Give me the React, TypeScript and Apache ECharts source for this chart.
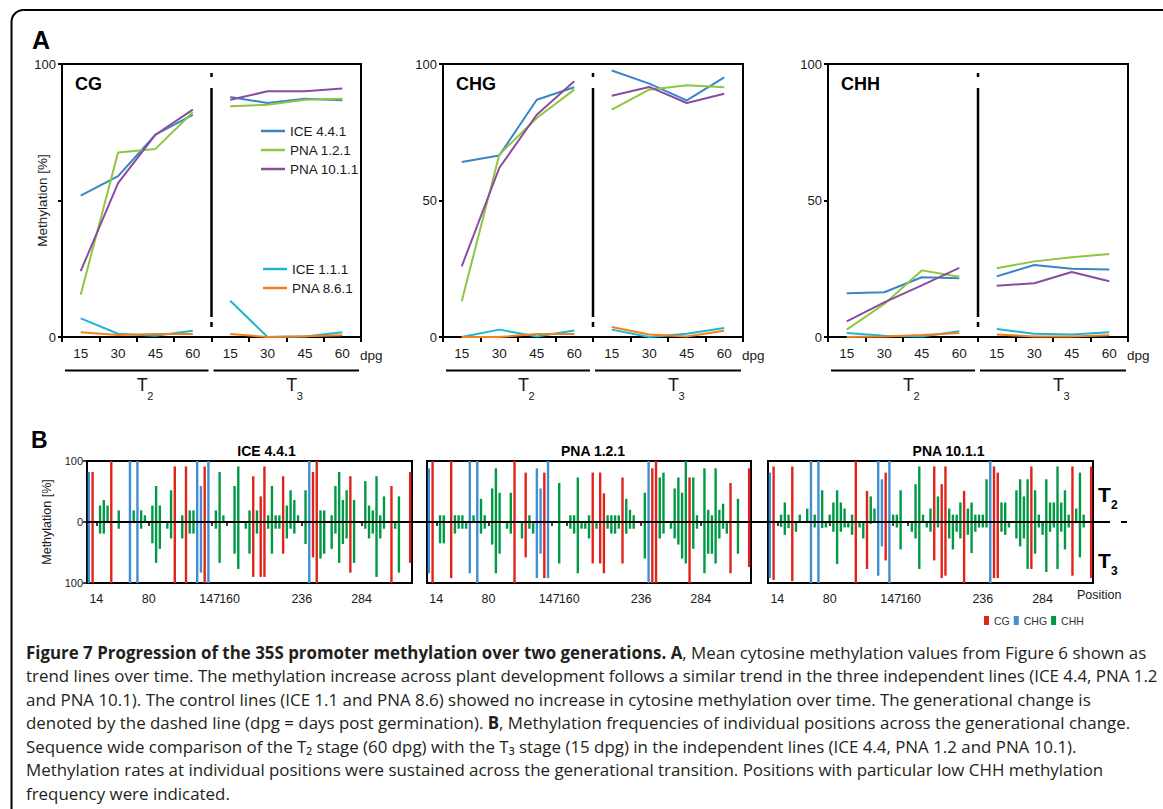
import React, { useEffect, useRef } from "react";
import * as echarts from "echarts";

const PAGE_W = 1163;
const PAGE_H = 809;
const FONT = "'Liberation Sans', Arial, Helvetica, sans-serif";
const CAP_FONT = "'Open Sans', 'Noto Sans', sans-serif";

// ---------------- Panel A data ----------------
const dpgTicks = ["15", "30", "45", "60"];
const generations = ["T2", "T3"];
const contextPanels = ["CG", "CHG", "CHH"];
const lineNames = ["ICE 4.4.1", "PNA 1.2.1", "PNA 10.1.1", "ICE 1.1.1", "PNA 8.6.1"];
const lineColors = ["#3a85c5", "#8dc63f", "#8b4c9f", "#1db6d3", "#f4811f"];

// values: T2 15,30,45,60 then T3 15,30,45,60 (mean methylation, %)
const cgIce441 = [51.8, 58.9, 74.1, 81.4, 87.9, 85.7, 87.3, 86.7];
const cgPna121 = [15.5, 67.6, 68.9, 82.3, 84.5, 85.1, 86.9, 87.3];
const cgPna1011 = [24.1, 56.4, 74.1, 83.3, 86.9, 90.0, 90.0, 91.0];
const cgIce111 = [6.8, 1.2, 0.5, 2.3, 13.3, 0.0, 0.2, 1.7];
const cgPna861 = [1.7, 0.7, 1.1, 1.1, 1.1, 0.0, 0.3, 0.6];

const chgIce441 = [64.1, 66.5, 86.9, 91.5, 97.6, 92.8, 86.7, 95.1];
const chgPna121 = [13.1, 66.8, 80.2, 90.6, 83.3, 90.6, 92.2, 91.5];
const chgPna1011 = [25.9, 61.9, 81.4, 93.7, 88.4, 91.6, 85.7, 89.1];
const chgIce111 = [0.0, 2.7, 0.2, 2.4, 2.7, 0.0, 1.2, 3.3];
const chgPna861 = [0.0, 0.0, 1.1, 1.1, 3.7, 0.9, 0.2, 2.3];

const chhIce441 = [16.0, 16.4, 21.9, 21.5, 22.2, 26.4, 25.0, 24.7];
const chhPna121 = [2.7, 12.1, 24.4, 22.1, 25.2, 27.7, 29.2, 30.4];
const chhPna1011 = [5.7, 12.7, 18.9, 25.3, 18.8, 19.7, 23.8, 20.4];
const chhIce111 = [1.5, 0.5, 0.2, 2.1, 2.9, 1.2, 0.9, 1.7];
const chhPna861 = [0.0, 0.2, 0.7, 1.5, 0.9, 0.2, 0.2, 0.6];

const panelLines = [
  [cgIce441, cgPna121, cgPna1011, cgIce111, cgPna861],
  [chgIce441, chgPna121, chgPna1011, chgIce111, chgPna861],
  [chhIce441, chhPna121, chhPna1011, chhIce111, chhPna861],
];

// ---------------- Panel B data ----------------
const contextNames = ["CG", "CHG", "CHH"];
const contextColors = ["#e2231a", "#3f8fd2", "#009a44"];
const siteCount = 87;
const cgSites = [1, 6, 23, 26, 31, 44, 46, 47, 52, 60, 61, 70, 81, 86];
const chgSites = [0, 11, 13, 29, 30, 32, 59];
const labelSites = [2, 16, 33, 37, 57, 73];
const labelPositions = ["14", "80", "147", "160", "236", "284"];
const lineTitles = ["ICE 4.4.1", "PNA 1.2.1", "PNA 10.1.1"];

const iceT2 = [82,82,0,27,36,27,100,0,19,0, 0,100,19,100,19,11,0,27,59,27, 0,0,52,91,0,11,91,19,19,100, 59,91,100,0,19,82,11,0,0,59, 91,0,0,19,75,19,42,91,11,59, 11,11,75,27,52,36,11,0,52,100, 82,100,19,19,0,11,59,82,36,52, 75,36,0,0,67,27,19,75,11,42, 0,59,0,42,0,0,82];
const iceT3 = [100,100,0,19,19,0,100,0,11,0, 0,100,0,100,11,0,0,35,67,44, 0,11,27,100,0,27,100,19,19,100, 83,100,100,0,11,67,0,0,0,52, 77,0,11,52,90,19,90,90,11,52, 11,11,52,27,11,19,0,0,36,100, 58,100,60,52,0,44,19,67,36,27, 83,67,0,0,11,27,19,90,27,11, 0,100,11,83,0,0,67];
const pna12T2 = [88,100,0,11,11,0,100,11,11,11, 0,100,11,100,38,11,0,55,88,48, 0,0,48,100,0,0,81,11,0,88, 55,81,100,0,0,64,0,0,11,11, 73,0,0,11,81,0,81,47,11,11, 11,11,73,38,20,11,0,0,48,100, 88,100,73,81,0,0,55,73,48,100, 73,73,11,0,88,20,11,88,20,30, 0,64,0,38,0,0,88];
const pna12T3 = [84,100,0,35,35,0,92,19,11,11, 11,84,0,100,19,11,0,37,84,52, 0,11,19,100,0,27,58,11,19,92, 52,92,92,0,0,68,0,0,11,19, 84,11,11,27,68,11,68,84,11,19, 19,11,68,19,11,11,0,0,60,100, 100,100,27,19,0,11,27,37,60,68, 100,44,11,0,84,52,52,68,27,11, 19,84,0,52,0,0,74];
const pna101T2 = [81,91,0,12,32,12,91,0,12,0, 22,100,12,100,52,0,12,32,52,32, 22,0,12,100,0,0,51,42,22,100, 70,81,100,12,12,52,0,0,0,62, 91,12,0,22,91,42,62,91,22,12, 12,32,51,22,32,12,12,12,70,100, 91,81,32,32,0,0,52,70,42,70, 91,52,12,0,70,32,32,91,32,52, 12,91,22,81,12,0,91];
const pna101T3 = [92,95,0,8,21,10,97,16,0,0, 0,100,9,100,10,9,3,16,69,16, 9,9,21,100,9,27,77,3,0,88, 40,63,100,3,9,45,0,0,16,27, 77,0,9,16,63,9,92,88,27,45, 16,27,100,21,51,16,9,9,9,100, 92,92,16,21,9,0,27,40,27,77, 77,52,9,21,82,16,9,77,16,45, 9,88,0,58,9,0,92];
const bT2 = [iceT2, pna12T2, pna101T2];
const bT3 = [iceT3, pna12T3, pna101T3];

const captionLines = [
  "{b|Figure 7 Progression of the 35S promoter methylation over two generations. A}, Mean cytosine methylation values from Figure 6 shown as",
  "trend lines over time. The methylation increase across plant development follows a similar trend in the three independent lines (ICE 4.4, PNA 1.2",
  "and PNA 10.1). The control lines (ICE 1.1 and PNA 8.6) showed no increase in cytosine methylation over time. The generational change is",
  "denoted by the dashed line (dpg = days post germination). {b|B}, Methylation frequencies of individual positions across the generational change.",
  "Sequence wide comparison of the T\u2082 stage (60 dpg) with the T\u2083 stage (15 dpg) in the independent lines (ICE 4.4, PNA 1.2 and PNA 10.1).",
  "Methylation rates at individual positions were sustained across the generational transition. Positions with particular low CHH methylation",
  "frequency were indicated.",
];

// ---------------- Layout ----------------
const aLefts = [62, 443, 828];
const aWidths = [299, 300, 300];
const aTop = 64;
const aHeight = 273;
const bLefts = [87, 427, 768];
const bWidths = [325, 324, 325];
const bTop = 461;
const bHeight = 122;

function siteContext(i: number) {
  if (cgSites.includes(i)) return "CG";
  if (chgSites.includes(i)) return "CHG";
  return "CHH";
}

function txt(x: number, y: number, text: string, size: number, o: any = {}) {
  const align = o.align || "left";
  const va = o.va || "middle";
  return {
    type: "text",
    x,
    y,
    z: 100,
    silent: true,
    style: {
      text,
      fontSize: size,
      fontFamily: o.family || FONT,
      fontWeight: o.bold ? "bold" : "normal",
      fill: o.color || "#1a1a1a",
      align,
      verticalAlign: va,
      textAlign: align,
      textVerticalAlign: va,
      ...(o.rich ? { rich: o.rich } : {}),
    },
  };
}

function seg(x1: number, y1: number, x2: number, y2: number, w = 2) {
  return {
    type: "line",
    z: 100,
    silent: true,
    shape: { x1, y1, x2, y2 },
    style: { stroke: "#000", lineWidth: w },
  };
}

function buildOption() {
  const grids: any[] = [];
  const xAxes: any[] = [];
  const yAxes: any[] = [];
  const series: any[] = [];
  const graphics: any[] = [];

  const aKeys = generations.flatMap((g) => dpgTicks.map((d) => `${g} ${d}`));

  // ---------- Panel A ----------
  contextPanels.forEach((ctx, pi) => {
    grids.push({
      left: aLefts[pi],
      top: aTop,
      width: aWidths[pi],
      height: aHeight,
      show: true,
      borderColor: "#000",
      borderWidth: 2,
      backgroundColor: "transparent",
    });
    xAxes.push({
      type: "category",
      gridIndex: pi,
      data: aKeys,
      boundaryGap: true,
      axisLine: { show: true, lineStyle: { color: "#000", width: 2 } },
      axisTick: { show: true, length: 5, lineStyle: { color: "#000", width: 2 } },
      axisLabel: {
        interval: 0,
        fontSize: 13.5,
        color: "#1a1a1a",
        fontFamily: FONT,
        margin: 9,
        formatter: (v: string) => v.split(" ")[1],
      },
      splitLine: { show: false },
    });
    yAxes.push({
      type: "value",
      gridIndex: pi,
      min: 0,
      max: 100,
      interval: 50,
      axisLine: { show: true, lineStyle: { color: "#000", width: 2 } },
      axisTick: { show: true, length: 4, lineStyle: { color: "#000", width: 2 } },
      axisLabel: {
        fontSize: 13,
        color: "#1a1a1a",
        fontFamily: FONT,
        margin: 6,
        formatter: (v: number) => (pi === 0 && v === 50 ? "" : String(v)),
      },
      splitLine: { show: false },
      name: pi === 0 ? "Methylation [%]" : "",
      nameLocation: "middle",
      nameGap: 13,
      nameMoveOverlap: false,
      nameTextStyle: { fontSize: 13.5, color: "#1a1a1a", fontFamily: FONT },
    });

    panelLines[pi].forEach((vals, li) => {
      [0, 1].forEach((g) => {
        series.push({
          type: "line",
          name: lineNames[li],
          xAxisIndex: pi,
          yAxisIndex: pi,
          data: vals.map((v, i) => (Math.floor(i / 4) === g ? v : "-")),
          symbol: "none",
          color: lineColors[li],
          lineStyle: { width: 2, color: lineColors[li] },
          connectNulls: false,
          silent: true,
          z: 3,
        });
      });
    });

    const left = aLefts[pi];
    const right = left + aWidths[pi];
    const mid = left + aWidths[pi] / 2;
    // generation divider (dashed)
    graphics.push(seg(mid, 73, mid, 77, 2.5));
    graphics.push(seg(mid, 88, mid, 317, 2.5));
    graphics.push(seg(mid, 322, mid, 327, 2.5));
    // context label
    graphics.push(txt(left + 13, 84, ctx, 18, { bold: true, color: "#000" }));
    // dpg
    graphics.push(txt(right - 1, 355, "dpg", 13.5));
    // generation brackets
    graphics.push(seg(left + 3, 370.5, mid - 3, 370.5, 2));
    graphics.push(seg(mid + 2, 370.5, right - 2, 370.5, 2));
    const c1 = (left + 3 + mid - 3) / 2;
    const c2 = (mid + 2 + right - 2) / 2;
    graphics.push(txt(c1, 385, "T", 18));
    graphics.push(txt(c1 + 10.5, 396, "2", 11));
    graphics.push(txt(c2, 385, "T", 18));
    graphics.push(txt(c2 + 10.5, 396, "3", 11));
  });

  // ---------- Panel B ----------
  const siteKeys = Array.from({ length: siteCount }, (_, i) => `site ${i + 1}`);
  lineTitles.forEach((title, ci) => {
    const gi = 3 + ci;
    grids.push({
      left: bLefts[ci],
      top: bTop,
      width: bWidths[ci],
      height: bHeight,
      show: true,
      borderColor: "#000",
      borderWidth: 2,
      backgroundColor: "transparent",
    });
    xAxes.push({
      type: "category",
      gridIndex: gi,
      data: siteKeys,
      boundaryGap: true,
      axisLine: { show: true, lineStyle: { color: "#000", width: 2 } },
      axisTick: {
        show: true,
        alignWithLabel: true,
        interval: (i: number) => labelSites.includes(i),
        length: 4,
        lineStyle: { color: "#000", width: 1.5 },
      },
      axisLabel: {
        interval: (i: number) => labelSites.includes(i),
        fontSize: 12.5,
        color: "#1a1a1a",
        fontFamily: FONT,
        margin: 9,
        formatter: (_v: string, i: number) => {
          const k = labelSites.indexOf(i);
          if (k < 0) return "";
          const lab = labelPositions[k];
          if (lab === "147") return `{l|${lab}}`;
          if (lab === "160") return `{r|${lab}}`;
          return lab;
        },
        rich: {
          l: { fontSize: 12.5, fontFamily: FONT, color: "#1a1a1a", padding: [0, 5, 0, 0] },
          r: { fontSize: 12.5, fontFamily: FONT, color: "#1a1a1a", padding: [0, 0, 0, 5] },
        },
      },
      splitLine: { show: false },
    });
    yAxes.push({
      type: "value",
      gridIndex: gi,
      min: -100,
      max: 100,
      interval: 100,
      axisLine: { show: true, lineStyle: { color: "#000", width: 2 } },
      axisTick: { show: ci === 0, length: 4, lineStyle: { color: "#000", width: 1.5 } },
      axisLabel: {
        show: ci === 0,
        fontSize: 11,
        color: "#1a1a1a",
        fontFamily: FONT,
        margin: 4,
        formatter: (v: number) => String(Math.abs(v)),
      },
      splitLine: { show: false },
      name: ci === 0 ? "Methylation [%]" : "",
      nameLocation: "middle",
      nameGap: 34,
      nameMoveOverlap: false,
      nameTextStyle: { fontSize: 12.5, color: "#1a1a1a", fontFamily: FONT },
    });

    contextNames.forEach((cn, k) => {
      [0, 1].forEach((dir) => {
        const src = dir === 0 ? bT2[ci] : bT3[ci];
        series.push({
          type: "bar",
          name: cn,
          xAxisIndex: gi,
          yAxisIndex: gi,
          stack: `b${ci}`,
          barWidth: 2.4,
          itemStyle: { color: contextColors[k] },
          data: src.map((v, i) => (siteContext(i) === cn ? (dir === 0 ? v : -v) : "-")),
          silent: true,
        });
      });
    });

    const center = bLefts[ci] + bWidths[ci] / 2;
    const titleShift = [17, 4, 18][ci];
    graphics.push(txt(center + titleShift, 451, title, 14, { bold: true, align: "center", color: "#000" }));
  });

  // zero line across panel B
  graphics.push(seg(bLefts[0], 522, 1110, 522, 2));
  graphics.push(seg(1121, 522, 1127, 522, 2));
  graphics.push(txt(1077, 595, "Position", 12.5));
  graphics.push(txt(1098, 494, "T", 21, { bold: true, color: "#000" }));
  graphics.push(txt(1111, 505, "2", 12, { bold: true, color: "#000" }));
  graphics.push(txt(1098, 560, "T", 21, { bold: true, color: "#000" }));
  graphics.push(txt(1111, 571, "3", 12, { bold: true, color: "#000" }));

  // panel letters
  graphics.push(txt(32, 40, "A", 25, { bold: true, color: "#000" }));
  graphics.push(txt(31, 440, "B", 23, { bold: true, color: "#000" }));

  // outer frame
  graphics.push({
    type: "rect",
    z: 100,
    silent: true,
    shape: { x: 11.5, y: 10, width: 1400, height: 1000, r: 12 },
    style: { fill: "none", stroke: "#000", lineWidth: 2 },
  });

  // caption
  captionLines.forEach((line, i) => {
    graphics.push(
      txt(26, 652 + i * 23.5, line, 16.9, {
        family: CAP_FONT,
        color: "#231f20",
        rich: {
          b: { fontSize: 16.9, fontFamily: CAP_FONT, fontWeight: "bold", fill: "#231f20" },
        },
      })
    );
  });

  return {
    animation: false,
    backgroundColor: "#ffffff",
    textStyle: { fontFamily: FONT },
    grid: grids,
    xAxis: xAxes,
    yAxis: yAxes,
    legend: [
      {
        data: lineNames.slice(0, 3),
        left: 261,
        top: 124,
        orient: "vertical",
        icon: "rect",
        itemWidth: 24,
        itemHeight: 2.5,
        itemGap: 5,
        padding: 0,
        selectedMode: false,
        textStyle: { fontSize: 13.5, color: "#1a1a1a", fontFamily: FONT },
      },
      {
        data: lineNames.slice(3),
        left: 263,
        top: 262,
        orient: "vertical",
        icon: "rect",
        itemWidth: 24,
        itemHeight: 2.5,
        itemGap: 5,
        padding: 0,
        selectedMode: false,
        textStyle: { fontSize: 13.5, color: "#1a1a1a", fontFamily: FONT },
      },
      {
        data: contextNames,
        left: 984,
        top: 615,
        orient: "horizontal",
        icon: "rect",
        itemWidth: 5,
        itemHeight: 9,
        itemGap: 4,
        padding: 0,
        selectedMode: false,
        textStyle: { fontSize: 10.5, color: "#333", fontFamily: FONT },
      },
    ],
    series,
    graphic: { elements: graphics },
  };
}

export default function App() {
  const ref = useRef<HTMLDivElement>(null);
  useEffect(() => {
    if (!ref.current) return;
    const chart = echarts.init(ref.current, undefined, { renderer: "svg" });
    chart.setOption(buildOption() as any);
    return () => chart.dispose();
  }, []);
  return (
    <div
      ref={ref}
      style={{ position: "absolute", left: 0, top: 0, width: PAGE_W, height: PAGE_H, background: "#fff" }}
    />
  );
}
